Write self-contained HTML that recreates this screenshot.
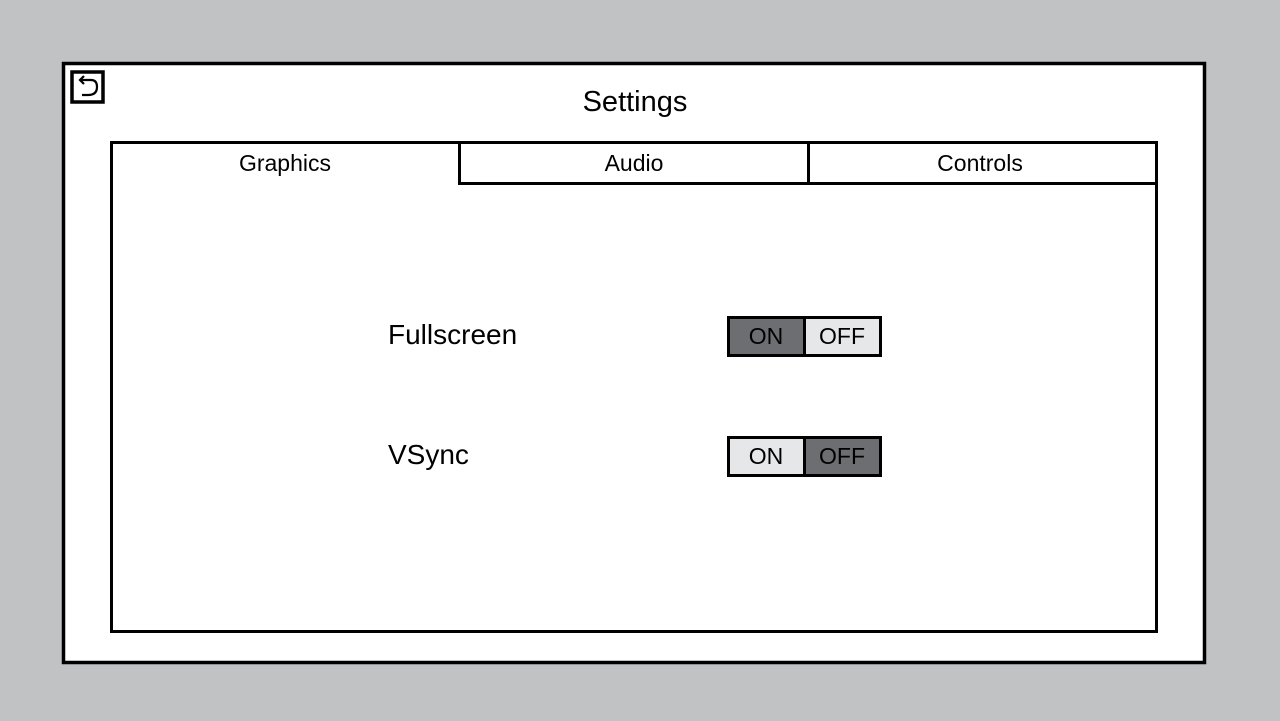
<!DOCTYPE html>
<html><head><style>
html,body{margin:0;padding:0;background:#c1c2c4;}
svg{display:block;}
text{font-family:"Liberation Sans",sans-serif;fill:#000;}
</style></head><body>
<svg width="1280" height="721" viewBox="0 0 1280 721">
<rect x="0" y="0" width="1280" height="721" fill="#c1c2c4"/>
<rect x="63.5" y="63.5" width="1141" height="599" fill="#fff" stroke="#000" stroke-width="3.5"/>
<rect x="72" y="72" width="31" height="30" fill="#fff" stroke="#000" stroke-width="3.5"/>
<path d="M81 80 L91 80 Q97 80 97 87 Q97 95 88 95 L82 95" fill="none" stroke="#000" stroke-width="2.2"/>
<path d="M84 76 L80 80 L84 84" fill="none" stroke="#000" stroke-width="2.2"/>
<text x="635" y="111" font-size="29" text-anchor="middle">Settings</text>
<rect x="111.5" y="142.5" width="1045" height="489" fill="#fff" stroke="#000" stroke-width="3"/>
<rect x="459.5" y="142.5" width="349" height="41" fill="#fff" stroke="#000" stroke-width="3"/>
<rect x="808.5" y="142.5" width="348" height="41" fill="#fff" stroke="#000" stroke-width="3"/>
<text x="285" y="171" font-size="23" text-anchor="middle">Graphics</text>
<text x="634" y="171" font-size="23" text-anchor="middle">Audio</text>
<text x="980" y="171" font-size="23" text-anchor="middle">Controls</text>
<text x="388" y="344" font-size="28">Fullscreen</text>
<text x="388" y="464" font-size="28">VSync</text>
<rect x="728.5" y="317.5" width="76" height="38" fill="#6d6e71" stroke="#000" stroke-width="3"/>
<rect x="804.5" y="317.5" width="76" height="38" fill="#e6e7e8" stroke="#000" stroke-width="3"/>
<text x="766" y="344" font-size="23" text-anchor="middle">ON</text>
<text x="842" y="344" font-size="23" text-anchor="middle">OFF</text>
<rect x="728.5" y="437.5" width="76" height="38" fill="#e6e7e8" stroke="#000" stroke-width="3"/>
<rect x="804.5" y="437.5" width="76" height="38" fill="#6d6e71" stroke="#000" stroke-width="3"/>
<text x="766" y="464" font-size="23" text-anchor="middle">ON</text>
<text x="842" y="464" font-size="23" text-anchor="middle">OFF</text>
</svg>
</body></html>
